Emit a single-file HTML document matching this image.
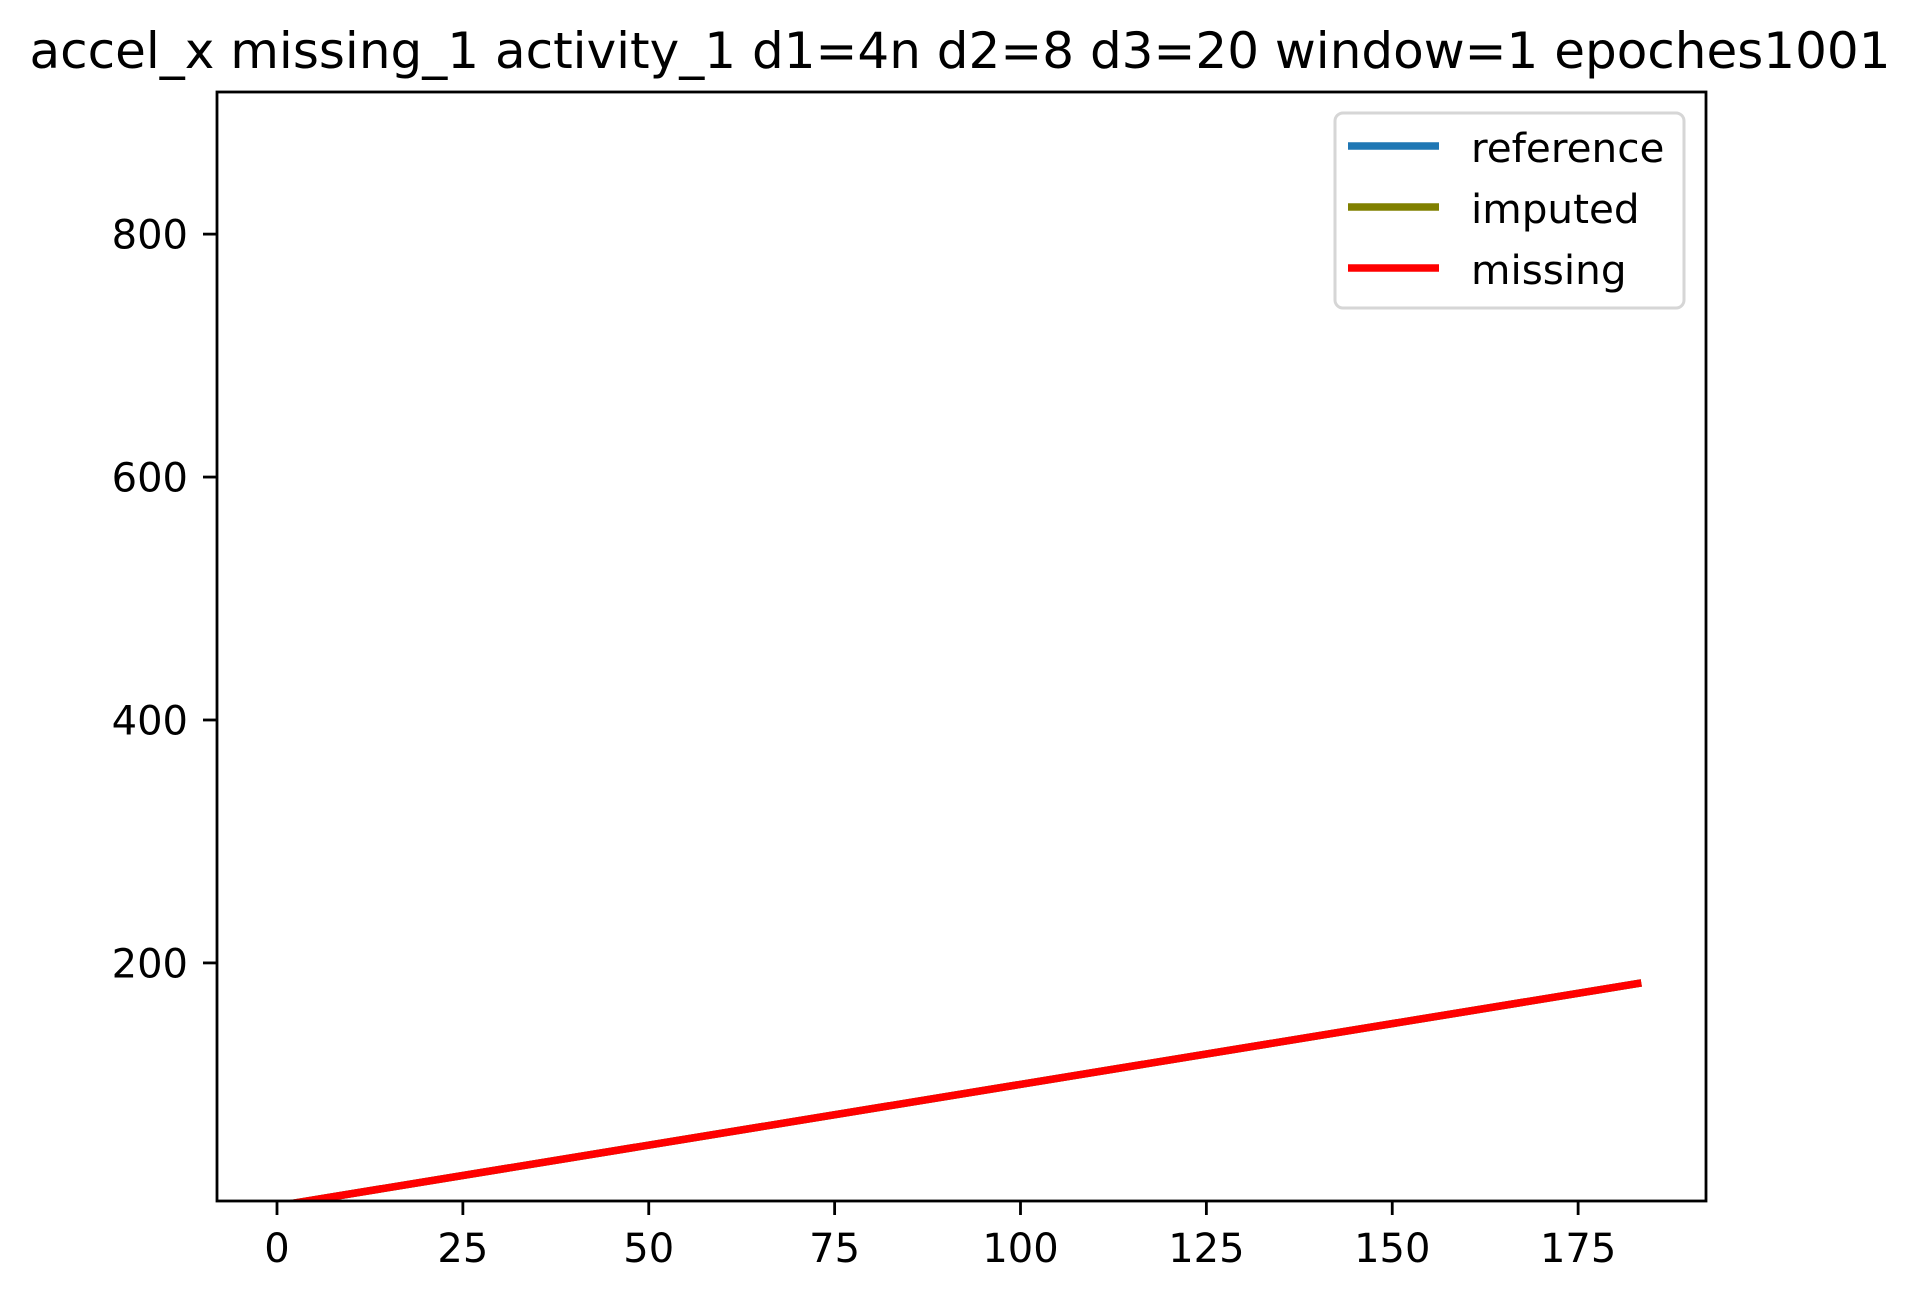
<!DOCTYPE html>
<html><head><meta charset="utf-8"><style>
html,body{margin:0;padding:0;background:#fff;}
svg{display:block;font-family:"DejaVu Sans","Liberation Sans",sans-serif;}
</style></head><body>
<svg id="chart" width="1922" height="1300" viewBox="0 0 1922 1300">
<rect x="0" y="0" width="1922" height="1300" fill="#fff"/>
<text x="960" y="68" font-size="50" text-anchor="middle" fill="#000">accel_x missing_1 activity_1 d1=4n d2=8 d3=20 window=1 epoches1001</text>
<g id="plot"></g>
</svg>
<script>
const xValues = [1, 183];
const referenceValues = [1, 183];
const imputedValues = [1, 183];
const missingValues = [1, 183];
const xTicks = [0, 25, 50, 75, 100, 125, 150, 175];
const yTicks = [200, 400, 600, 800];

const L = 217, R = 1706, T = 92, B = 1201;
const xMin = -8.07, xMax = 192.2, yMin = 4, yMax = 917;
const sx = v => L + (v - xMin) / (xMax - xMin) * (R - L);
const sy = v => B - (v - yMin) / (yMax - yMin) * (B - T);
const NS = 'http://www.w3.org/2000/svg';
const g = document.getElementById('plot');
function mk(tag, attrs, parent) {
  const e = document.createElementNS(NS, tag);
  for (const k in attrs) e.setAttribute(k, attrs[k]);
  (parent || g).appendChild(e);
  return e;
}
const defs = mk('defs', {});
const cp = mk('clipPath', {id: 'clip'}, defs);
mk('rect', {x: L, y: T, width: R - L, height: B - T}, cp);

const series = [
  {name: 'reference', vals: referenceValues, color: '#1f77b4'},
  {name: 'imputed', vals: imputedValues, color: '#808000'},
  {name: 'missing', vals: missingValues, color: '#ff0000'}
];
series.forEach(s => {
  const pts = xValues.map((x, i) => sx(x).toFixed(2) + ',' + sy(s.vals[i]).toFixed(2)).join(' ');
  const pl = mk('polyline', {points: pts, fill: 'none', stroke: s.color, 'stroke-width': 7.5, 'stroke-linecap': 'square', 'clip-path': 'url(#clip)'});
  
  
});

const frame = mk('rect', {x: L, y: T, width: R - L, height: B - T, fill: 'none', stroke: '#000', 'stroke-width': 2.8});



xTicks.forEach(v => {
  const x = sx(v);
  const t = mk('line', {x1: x, y1: B, x2: x, y2: B + 14, stroke: '#000', 'stroke-width': 2.8});
  
  
  const lb = mk('text', {x: x, y: 1262, 'font-size': 40, 'text-anchor': 'middle', fill: '#000'});
  lb.textContent = v;
  
  
});
yTicks.forEach(v => {
  const y = sy(v);
  const t = mk('line', {x1: L - 14, y1: y, x2: L, y2: y, stroke: '#000', 'stroke-width': 2.8});
  
  
  const lb = mk('text', {x: L - 29, y: y + 14.5, 'font-size': 40, 'text-anchor': 'end', fill: '#000'});
  lb.textContent = v;
  
  
});

const leg = mk('g', {});


mk('rect', {x: 1335, y: 113, width: 349, height: 195, rx: 8, fill: '#fff', 'fill-opacity': 0.8, stroke: '#d6d6d6', 'stroke-width': 3}, leg);
const legY = [146, 207, 268];
series.forEach((s, i) => {
  const ln = mk('line', {x1: 1348, y1: legY[i], x2: 1439, y2: legY[i], stroke: s.color, 'stroke-width': 7.5}, leg);
  
  
  const tx = mk('text', {x: 1471, y: legY[i] + 16, 'font-size': 40.5, fill: '#000'}, leg);
  tx.textContent = s.name;
  
  
});
</script>
</body></html>
